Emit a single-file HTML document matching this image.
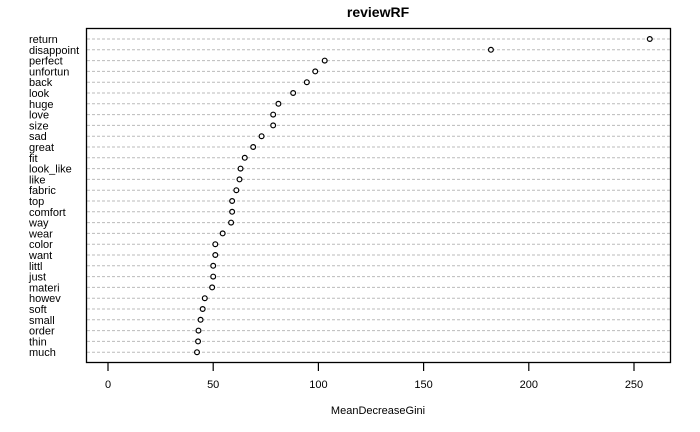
<!DOCTYPE html>
<html><head><meta charset="utf-8"><style>
body{margin:0;background:#fff;}
svg{display:block;font-family:"Liberation Sans",Arial,sans-serif;}
</style></head><body>
<svg id="chart" width="700" height="432" viewBox="0 0 700 432">
<rect width="700" height="432" fill="#fff"/>
<text x="378" y="17" text-anchor="middle" font-size="14" font-weight="bold">reviewRF</text>
<g id="rows"></g>
<rect x="86.5" y="28.5" width="584" height="334" fill="none" stroke="#000" stroke-width="1.3"/>
<g id="xaxis"></g>
<text x="378" y="414" text-anchor="middle" font-size="11">MeanDecreaseGini</text>
</svg>
<script>
const categories=["return","disappoint","perfect","unfortun","back","look","huge","love","size","sad","great","fit","look_like","like","fabric","top","comfort","way","wear","color","want","littl","just","materi","howev","soft","small","order","thin","much"];
const values=[257.5,182,103,98.5,94.5,88,81,78.5,78.5,73,69,65,63,62.5,61,59,59,58.5,54.5,51,51,50,50,49.5,46,45,44,43,42.8,42.3];
const ticks=[0,50,100,150,200,250];
const NS="http://www.w3.org/2000/svg";
const x=v=>108+v*2.104;
const y=i=>39+i*10.8;
const rows=document.getElementById('rows');
function mk(t,a,p){const e=document.createElementNS(NS,t);for(const k in a)e.setAttribute(k,a[k]);p.appendChild(e);return e;}
categories.forEach((c,i)=>{
  const l=mk('line',{x1:87,x2:670,y1:y(i),y2:y(i),stroke:'#bbb','stroke-dasharray':'3,2','stroke-width':1},rows);
  
  
  const t=mk('text',{x:29,y:y(i)+4,'font-size':11},rows);
  t.textContent=c;
  
  
  const p=mk('circle',{cx:x(values[i]),cy:y(i),r:2.4,fill:'#fff',stroke:'#000','stroke-width':1.2},rows);
  
  
});
const ax=document.getElementById('xaxis');
ticks.forEach(v=>{
  const l=mk('line',{x1:x(v),x2:x(v),y1:363,y2:371,stroke:'#000','stroke-width':1.2},ax);
  
  
  const t=mk('text',{x:x(v),y:388,'text-anchor':'middle','font-size':11},ax);
  t.textContent=v;
  
  
});
</script>
</body></html>
